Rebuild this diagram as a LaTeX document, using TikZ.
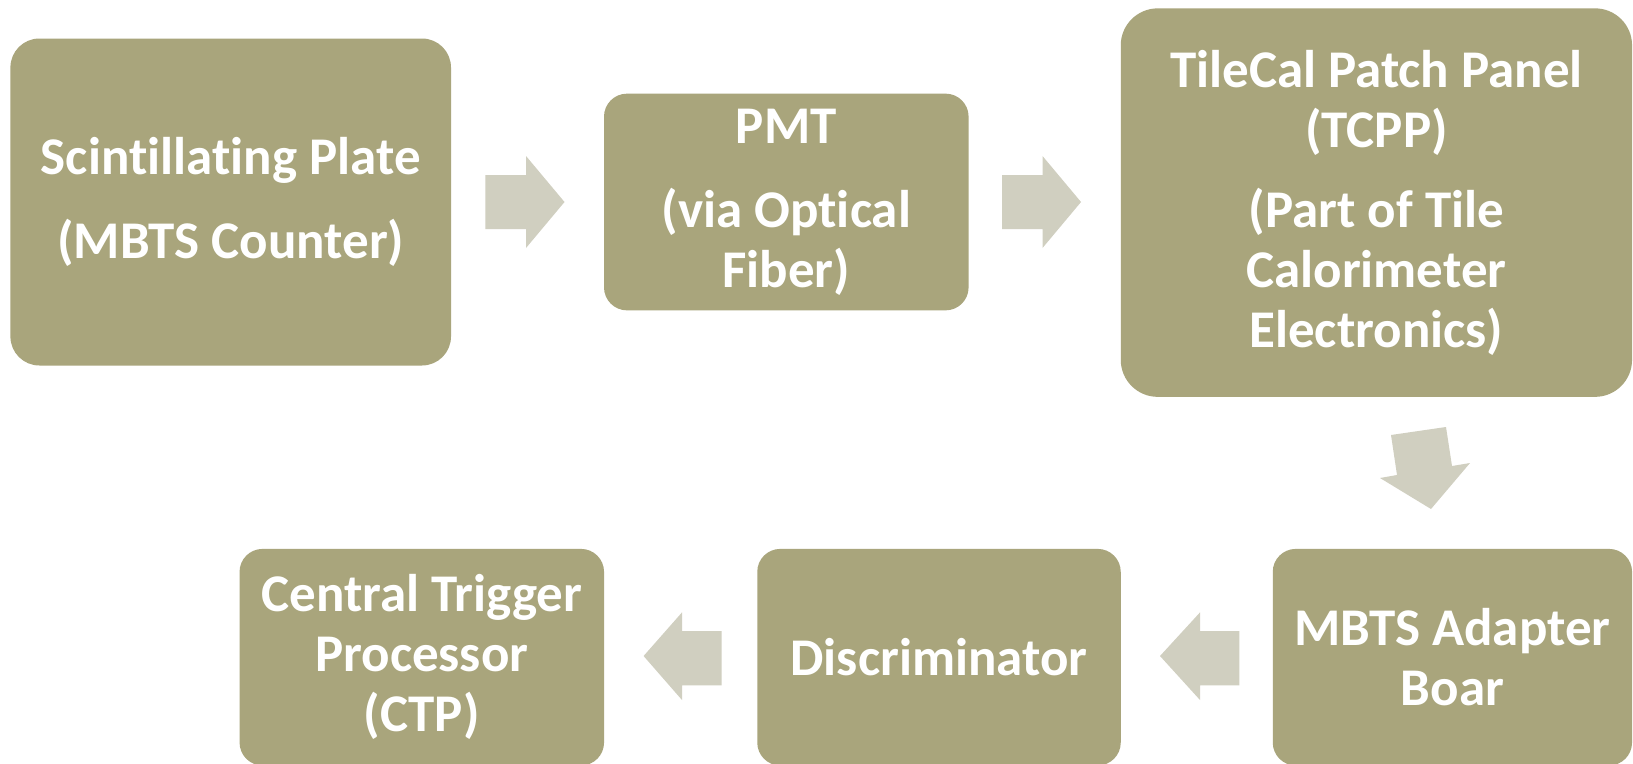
\documentclass[tikz,border=0pt]{standalone}
\usepackage{fontspec}
\newfontfamily\cfont{Carlito}[Ligatures=CommonOff]
\definecolor{boxfill}{RGB}{169,165,124}
\definecolor{arrfill}{RGB}{208,207,192}
\begin{document}
\begin{tikzpicture}[x=1pt,y=-1pt,
  box/.style={fill=boxfill, draw=none, inner sep=0pt, text=white, align=center,
    font=\cfont\bfseries\fontsize{53}{60}\selectfont},
  blockarrow/.style={fill=arrfill, draw=none}]
\path[use as bounding box, clip] (0,0) rectangle (1633,763);
\fill[white] (0,0) rectangle (1633,763);
% boxes
\node[box, rounded corners=29pt, minimum width=440.6pt, minimum height=327pt] (b1) at (230.7,202)
  {Scintillating Plate\\[24pt](MBTS Counter)};
\node[box, rounded corners=23pt, minimum width=364.6pt, minimum height=216.7pt] (b2) at (786.3,202)
  {PMT\\[24pt](via Optical\\Fiber)};
\node[box, rounded corners=37pt, minimum width=511.3pt, minimum height=388.5pt] (b3) at (1376.4,202.6)
  {TileCal Patch Panel\\(TCPP)\\[20pt](Part of Tile\\Calorimeter\\Electronics)};
\node[box, rounded corners=23pt, minimum width=359.3pt, minimum height=216.6pt] (b4) at (1452.4,657.2)
  {MBTS Adapter\\Boar};
\node[box, rounded corners=23pt, minimum width=363.5pt, minimum height=216.6pt] (b5) at (939,657.2)
  {Discriminator};
\node[box, rounded corners=23pt, minimum width=364.5pt, minimum height=216.6pt] (b6) at (421.8,657.2)
  {Central Trigger\\Processor\\(CTP)};
% block arrows
\fill[blockarrow] (485.3,175) -- (526,175) -- (526,156) -- (564.5,202) -- (526,248) -- (526,229) -- (485.3,229) -- cycle;
\fill[blockarrow] (1002,175) -- (1042.5,175) -- (1042.5,156) -- (1081,202) -- (1042.5,248) -- (1042.5,229) -- (1002,229) -- cycle;
\fill[blockarrow] (1391,435) -- (1446,427) -- (1452,466) -- (1470,463) -- (1431,509) -- (1380,478) -- (1397,475) -- cycle;
\fill[blockarrow] (1239.4,631) -- (1200,631) -- (1200,612.4) -- (1160,656) -- (1200,700) -- (1200,685.3) -- (1239.4,685.3) -- cycle;
\fill[blockarrow] (721.7,631) -- (682,631) -- (682,612.4) -- (643.6,656) -- (682,700) -- (682,685.3) -- (721.7,685.3) -- cycle;
\end{tikzpicture}
\end{document}
